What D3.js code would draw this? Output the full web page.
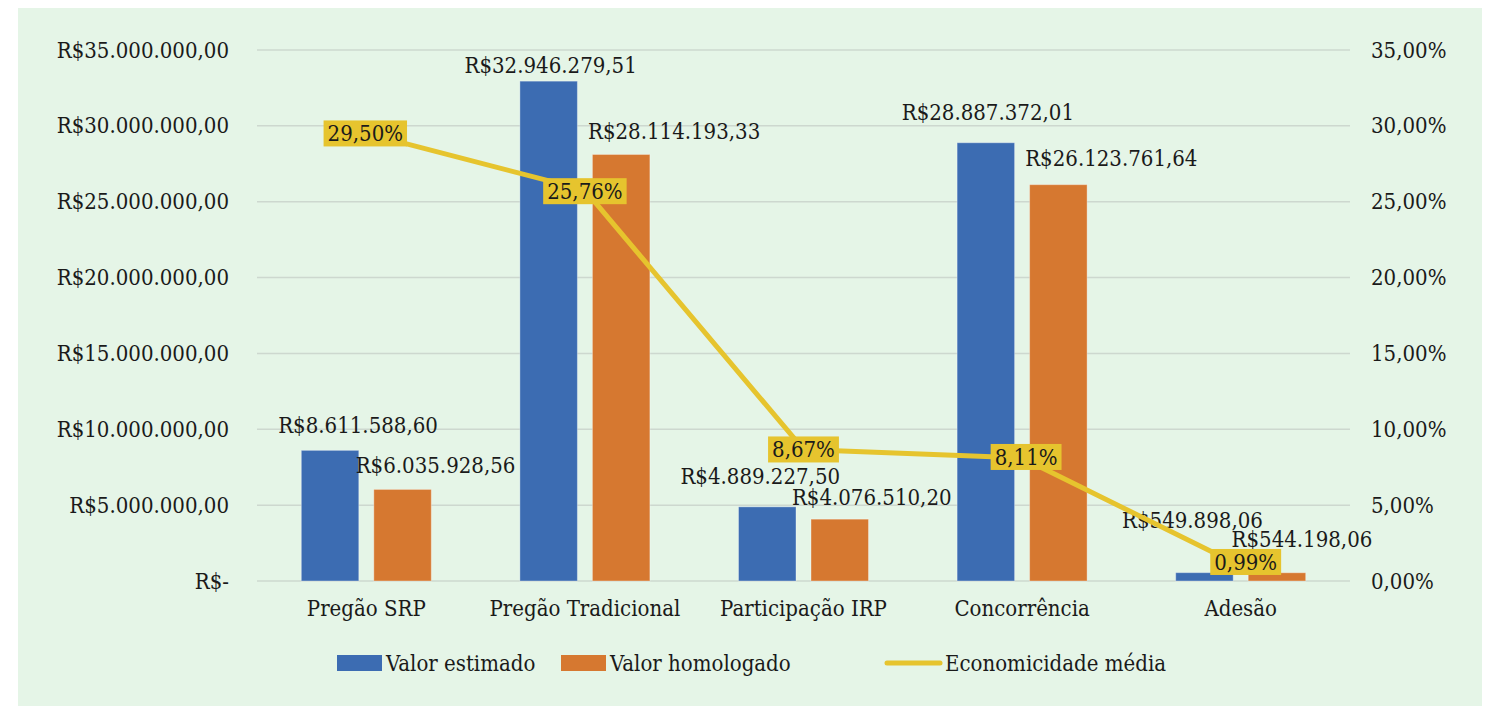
<!DOCTYPE html>
<html>
<head>
<meta charset="utf-8">
<script src="https://cdn.jsdelivr.net/npm/d3@7"></script>
<style>
  body { margin: 0; background: #fff; }
  svg text { font-family: "DejaVu Serif Condensed", "DejaVu Serif", serif; font-stretch: condensed; font-size: 22px; fill: #1a1a1a; }
</style>
</head>
<body>
<svg id="chart" width="1487" height="708"></svg>
<script>
// chart data
const categories = ["Pregão SRP", "Pregão Tradicional", "Participação IRP", "Concorrência", "Adesão"];
const valorEstimado = [8611588.60, 32946279.51, 4889227.50, 28887372.01, 549898.06];
const valorHomologado = [6035928.56, 28114193.33, 4076510.20, 26123761.64, 544198.06];
const economicidade = [0.2950, 0.2576, 0.0867, 0.0811, 0.0099];
const leftTicks = [0, 5e6, 10e6, 15e6, 20e6, 25e6, 30e6, 35e6];
const rightTicks = [0, 0.05, 0.10, 0.15, 0.20, 0.25, 0.30, 0.35];
const seriesNames = ["Valor estimado", "Valor homologado", "Economicidade média"];

// label nudges (px) copied from where the labels sit in the original
const estNudge = [[28, -25], [2, -16], [-7, -31], [2, -30], [-12, -52]];
const homNudge = [[33, -24], [53, -23], [32, -22], [53, -26], [25, -33]];
const pctNudge = [[-1, 0], [0, 1], [0, 0], [4, -1], [5, -4]];

const colors = { est: "#3c6cb2", hom: "#d67830", line: "#e6c42e", grid: "#cdd8cf", bg: "#e5f5e7" };

const locale = d3.formatLocale({ decimal: ",", thousands: ".", grouping: [3], currency: ["R$", ""] });
const money = v => v === 0 ? "R$-" : locale.format("$,.2f")(v);
const pct = locale.format(".2%");

const svg = d3.select("#chart");
svg.append("rect").attr("x", 18).attr("y", 8).attr("width", 1464).attr("height", 698).attr("fill", colors.bg);

const plot = { left: 257, right: 1350, top: 50, bottom: 581 };

const x = d3.scaleBand().domain(categories).range([plot.left, plot.right]).padding(0);
const xs = d3.scaleBand().domain(["est", "hom"]).range([0, x.bandwidth()])
  .paddingInner(0.207).paddingOuter(0.611);
const y = d3.scaleLinear().domain([0, 35e6]).range([plot.bottom, plot.top]);
const y2 = d3.scaleLinear().domain([0, 0.35]).range([plot.bottom, plot.top]);

// gridlines
svg.append("g").selectAll("line").data(leftTicks).enter().append("line")
  .attr("x1", plot.left).attr("x2", plot.right)
  .attr("y1", d => y(d)).attr("y2", d => y(d))
  .attr("stroke", colors.grid).attr("stroke-width", 1.5);

// left axis
const gl = svg.append("g").attr("transform", "translate(236,0)")
  .call(d3.axisLeft(y).tickValues(leftTicks).tickFormat(money).tickSize(0).tickPadding(7));
gl.select(".domain").remove();
gl.selectAll("text").attr("font-size", null).attr("font-family", null).attr("fill", null);

// right axis
const gr = svg.append("g").attr("transform", "translate(1364,0)")
  .call(d3.axisRight(y2).tickValues(rightTicks).tickFormat(pct).tickSize(0).tickPadding(7));
gr.select(".domain").remove();
gr.selectAll("text").attr("font-size", null).attr("font-family", null).attr("fill", null);

// category axis
const gb = svg.append("g").attr("transform", "translate(0," + plot.bottom + ")")
  .call(d3.axisBottom(x).tickSize(0).tickPadding(19));
gb.select(".domain").remove();
gb.selectAll("text").attr("font-size", null).attr("font-family", null).attr("fill", null);

// bars
const rows = categories.map((c, i) => ({ c: c, est: valorEstimado[i], hom: valorHomologado[i], pct: economicidade[i], i: i }));

const groups = svg.append("g").selectAll("g").data(rows).enter().append("g")
  .attr("transform", d => "translate(" + x(d.c) + ",0)");

["est", "hom"].forEach(key => {
  groups.append("rect")
    .attr("x", xs(key))
    .attr("y", d => y(d[key]))
    .attr("width", xs.bandwidth())
    .attr("height", d => y(0) - y(d[key]))
    .attr("fill", colors[key])
    .attr("stroke", "#ffffff").attr("stroke-opacity", 0.35).attr("stroke-width", 1);
});

// line
const line = d3.line().x(d => x(d.c) + x.bandwidth() / 2).y(d => y2(d.pct));
svg.append("path").datum(rows).attr("d", line)
  .attr("fill", "none").attr("stroke", colors.line).attr("stroke-width", 5).attr("stroke-linejoin", "round");

// bar value labels
["est", "hom"].forEach(key => {
  const nudge = key === "est" ? estNudge : homNudge;
  groups.append("text")
    .attr("x", d => xs(key) + xs.bandwidth() / 2 + nudge[d.i][0])
    .attr("y", d => y(d[key]) + nudge[d.i][1])
    .attr("dy", "0.35em")
    .attr("text-anchor", "middle")
    .text(d => money(d[key]));
});

// percentage labels with yellow boxes
const pl = svg.append("g").selectAll("g").data(rows).enter().append("g")
  .attr("transform", d => "translate(" + (x(d.c) + x.bandwidth() / 2 + pctNudge[d.i][0]) + "," + (y2(d.pct) + pctNudge[d.i][1]) + ")");
pl.append("text").attr("text-anchor", "middle").attr("dy", "0.35em").attr("fill", "#111").text(d => pct(d.pct));
pl.each(function () {
  const g = d3.select(this);
  const bb = g.select("text").node().getBBox();
  g.insert("rect", "text")
    .attr("x", bb.x - 4).attr("y", -13)
    .attr("width", bb.width + 8).attr("height", 26)
    .attr("fill", colors.line);
});

// legend
const legend = svg.append("g").attr("transform", "translate(0,663)");
const legendItems = [
  { name: seriesNames[0], type: "rect", color: colors.est, x: 337 },
  { name: seriesNames[1], type: "rect", color: colors.hom, x: 561 },
  { name: seriesNames[2], type: "line", color: colors.line, x: 885 }
];
legendItems.forEach(it => {
  if (it.type === "rect") {
    legend.append("rect").attr("x", it.x).attr("y", -8).attr("width", 45).attr("height", 16).attr("fill", it.color);
  } else {
    legend.append("line").attr("x1", it.x + 2).attr("x2", it.x + 55).attr("y1", 0).attr("y2", 0)
      .attr("stroke", it.color).attr("stroke-width", 5).attr("stroke-linecap", "round");
  }
  legend.append("text").attr("x", it.x + (it.type === "rect" ? 49 : 60)).attr("dy", "0.35em").text(it.name);
});
</script>
</body>
</html>
